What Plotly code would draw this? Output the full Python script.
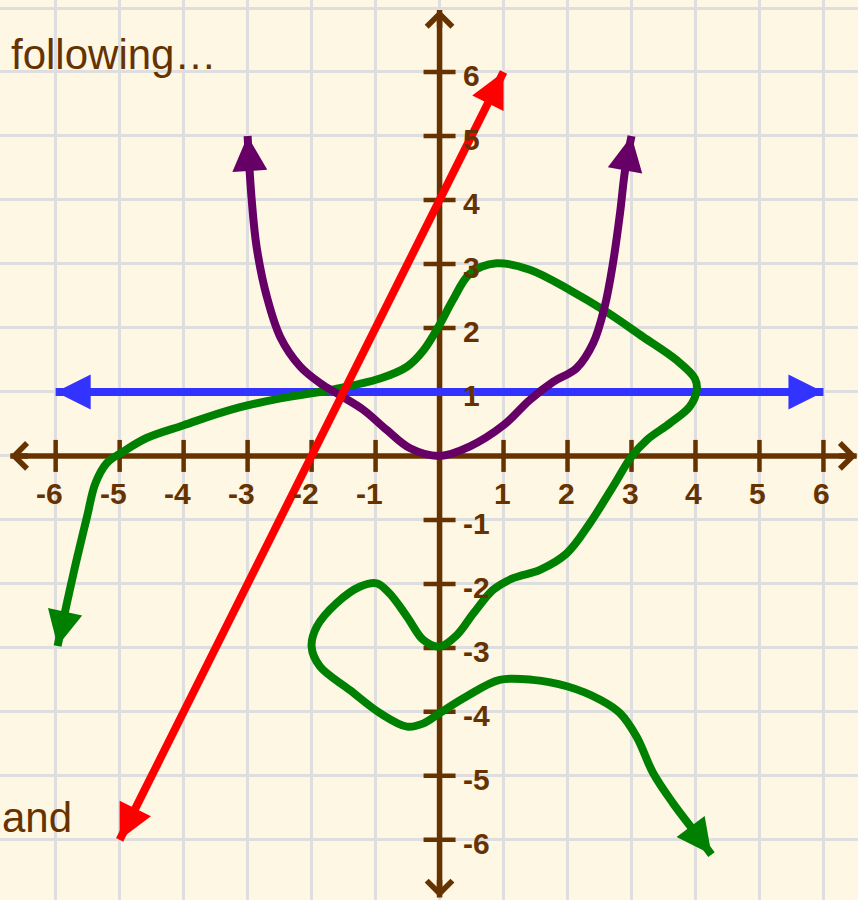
import math
import plotly.graph_objects as go

# ---------------- data ----------------
x_tick_values = [-6, -5, -4, -3, -2, -1, 1, 2, 3, 4, 5, 6]
x_tick_labels = ["-6", "-5", "-4", "-3", "-2", "-1", "1", "2", "3", "4", "5", "6"]
y_tick_values = [6, 5, 4, 3, 2, 1, -1, -2, -3, -4, -5, -6]
y_tick_labels = ["6", "5", "4", "3", "2", "1", "-1", "-2", "-3", "-4", "-5", "-6"]

x_axis_extent = [-6.71, 6.52]
y_axis_extent = [-6.9, 6.97]

red_x = [-5, 1]
red_y = [-6, 6]

blue_x = [-6, 6]
blue_y = [1, 1]

purple_x = [-3.0, -2.94, -2.86, -2.70, -2.49, -2.18, -1.87, -1.56, -1.19, -0.83, -0.46, 0.0,
            0.475, 1.0, 1.41, 1.78, 2.14, 2.40, 2.58, 2.71, 2.82, 2.90, 3.0]
purple_y = [5.0, 4.05, 3.27, 2.49, 1.86, 1.40, 1.14, 0.95, 0.72, 0.41, 0.12, 0.0,
            0.15, 0.48, 0.875, 1.16, 1.37, 1.76, 2.33, 3.01, 3.79, 4.47, 5.0]

green_x = [-5.97, -5.72, -5.51, -5.38, -5.20, -4.94, -4.58, -4.0, -3.27, -2.49, -1.71, -0.93,
           -0.5, -0.25, 0.0, 0.21, 0.475, 0.89, 1.41, 2.04, 2.61, 3.18, 3.70, 3.99, 4.02,
           3.91, 3.6, 3.24, 3.0, 2.71, 2.35, 1.99, 1.57, 1.15, 0.84, 0.53, 0.27, 0.0,
           -0.25, -0.51, -0.78, -0.98, -1.24, -1.61, -1.92, -2.0, -1.87, -1.40, -0.93,
           -0.51, -0.25, 0.0, 0.42, 0.94, 1.46, 1.99, 2.51, 2.82, 3.08, 3.34, 3.65, 3.96, 4.25]
green_y = [-2.97, -1.83, -0.95, -0.43, -0.11, 0.07, 0.28, 0.48, 0.72, 0.90, 1.03, 1.21,
           1.40, 1.65, 2.05, 2.44, 2.85, 3.01, 2.91, 2.59, 2.25, 1.86, 1.50, 1.21, 1.03,
           0.77, 0.51, 0.25, -0.01, -0.48, -1.05, -1.52, -1.78, -1.91, -2.09, -2.46, -2.80, -2.98,
           -2.88, -2.51, -2.15, -1.99, -2.04, -2.30, -2.67, -2.98, -3.29, -3.66, -4.02,
           -4.23, -4.18, -4.02, -3.76, -3.5, -3.5, -3.6, -3.81, -4.02, -4.39, -4.96, -5.43, -5.84, -6.23]

top_text = "following…"
bottom_text = "and"

# ---------------- style ----------------
BG = "#fef7e4"
BROWN = "#663300"
GRID = "#dedede"
RED = "#ff0000"
BLUE = "#3333ff"
PURPLE = "#660066"
GREEN = "#008000"
FONT = "Liberation Sans, Arial, sans-serif"
TICK_HALF = 0.25
LW = 8

fig = go.Figure()

# axis lines
fig.add_trace(go.Scatter(x=x_axis_extent, y=[0, 0], mode="lines",
                         line=dict(color=BROWN, width=5.5), hoverinfo="skip"))
fig.add_trace(go.Scatter(x=[0, 0], y=y_axis_extent, mode="lines",
                         line=dict(color=BROWN, width=5.5), hoverinfo="skip"))

# tick marks
tx, ty = [], []
for v in x_tick_values:
    tx += [v, v, None]
    ty += [-TICK_HALF, TICK_HALF, None]
for v in y_tick_values:
    tx += [-TICK_HALF, TICK_HALF, None]
    ty += [v, v, None]
fig.add_trace(go.Scatter(x=tx, y=ty, mode="lines", line=dict(color=BROWN, width=4.5),
                         hoverinfo="skip"))

# curves
fig.add_trace(go.Scatter(x=blue_x, y=blue_y, mode="lines", line=dict(color=BLUE, width=LW)))
fig.add_trace(go.Scatter(x=green_x, y=green_y, mode="lines",
                         line=dict(color=GREEN, width=LW, shape="spline", smoothing=1)))
fig.add_trace(go.Scatter(x=purple_x, y=purple_y, mode="lines",
                         line=dict(color=PURPLE, width=LW, shape="spline", smoothing=1)))
fig.add_trace(go.Scatter(x=red_x, y=red_y, mode="lines", line=dict(color=RED, width=LW)))

annotations = []


def head(xs, ys, color, at_end=True, width=5, size=1.4, style=2, tail=0.6):
    if at_end:
        x, y, px, py = xs[-1], ys[-1], xs[-2], ys[-2]
    else:
        x, y, px, py = xs[0], ys[0], xs[1], ys[1]
    d = math.hypot(px - x, py - y)
    ax = x + (px - x) / d * tail
    ay = y + (py - y) / d * tail
    annotations.append(dict(x=x, y=y, ax=ax, ay=ay, xref="x", yref="y", axref="x", ayref="y",
                            text="", showarrow=True, arrowhead=style, arrowsize=size,
                            arrowwidth=width, arrowcolor=color))


head(red_x, red_y, RED, True)
head(red_x, red_y, RED, False)
head(blue_x, blue_y, BLUE, True)
head(blue_x, blue_y, BLUE, False)
head(purple_x, purple_y, PURPLE, True, tail=0.45)
head(purple_x, purple_y, PURPLE, False, tail=0.45)
head(green_x, green_y, GREEN, True, tail=0.45)
head(green_x, green_y, GREEN, False, tail=0.45)

# axis chevrons
for (x, y, ax, ay) in [(x_axis_extent[1], 0, x_axis_extent[1] - 0.3, 0),
                       (x_axis_extent[0], 0, x_axis_extent[0] + 0.3, 0),
                       (0, y_axis_extent[1], 0, y_axis_extent[1] - 0.3),
                       (0, y_axis_extent[0], 0, y_axis_extent[0] + 0.3)]:
    annotations.append(dict(x=x, y=y, ax=ax, ay=ay, xref="x", yref="y", axref="x", ayref="y",
                            text="", showarrow=True, arrowhead=4, arrowsize=0.9,
                            arrowwidth=5.5, arrowcolor=BROWN))

# tick labels
for v, lab in zip(x_tick_values, x_tick_labels):
    annotations.append(dict(x=v, y=0, xref="x", yref="y", text="<b>%s</b>" % lab,
                            showarrow=False, xanchor="right", yanchor="middle",
                            xshift=9, yshift=-38,
                            font=dict(family=FONT, size=30, color=BROWN)))
for v, lab in zip(y_tick_values, y_tick_labels):
    annotations.append(dict(x=0, y=v, xref="x", yref="y", text="<b>%s</b>" % lab,
                            showarrow=False, xanchor="left", yanchor="middle",
                            xshift=21, yshift=-4,
                            font=dict(family=FONT, size=30, color=BROWN)))

# text fragments
annotations.append(dict(x=0.011, y=0.968, xref="paper", yref="paper", text=top_text,
                        showarrow=False, xanchor="left", yanchor="top",
                        font=dict(family=FONT, size=42, color=BROWN)))
annotations.append(dict(x=0.0, y=0.063, xref="paper", yref="paper", text=bottom_text,
                        showarrow=False, xanchor="left", yanchor="bottom",
                        font=dict(family=FONT, size=42, color=BROWN)))

fig.update_layout(
    width=858, height=900, autosize=False,
    margin=dict(l=0, r=0, t=0, b=0, pad=0),
    paper_bgcolor=BG, plot_bgcolor=BG,
    showlegend=False,
    annotations=annotations,
    xaxis=dict(range=[-6.87, 6.54], dtick=1, tick0=0, showgrid=True, gridcolor=GRID,
               gridwidth=3, zeroline=False, showticklabels=False, ticks="", showline=False,
               fixedrange=True),
    yaxis=dict(range=[-6.94, 7.125], dtick=1, tick0=0, showgrid=True, gridcolor=GRID,
               gridwidth=3, zeroline=False, showticklabels=False, ticks="", showline=False,
               fixedrange=True),
)

fig.write_html("out.html", config={"displayModeBar": False},
               post_script="document.body.style.margin='0px';")
